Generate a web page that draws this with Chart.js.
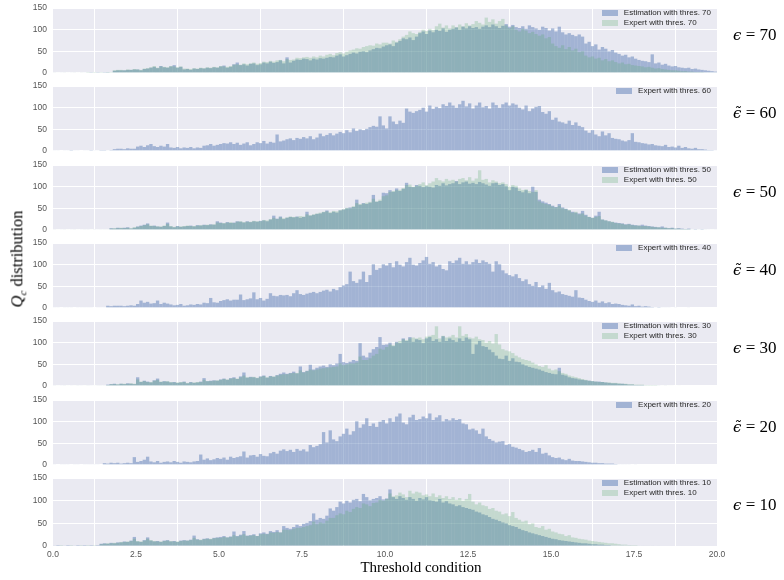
<!DOCTYPE html>
<html><head><meta charset="utf-8">
<script src="https://cdn.jsdelivr.net/npm/chart.js@4.4.1/dist/chart.umd.min.js"></script>
<style>
html,body{margin:0;padding:0;background:#fff;}
#wrap{position:relative;width:784px;height:580px;overflow:hidden;background:#fff;}
canvas{position:absolute;left:0;}
.leg{position:absolute;font:8px "Liberation Sans",Arial,sans-serif;color:#262626;line-height:10px;}
.row{display:flex;align-items:center;white-space:nowrap;height:10px;}
.sw{display:inline-block;width:16px;height:5.6px;margin-right:6px;}
.eps{position:absolute;left:733px;font:17px "Liberation Serif","Times New Roman",serif;white-space:pre;transform:translateY(-50%);color:#000;}
.eps .g{font:italic 15px "DejaVu Serif",serif;}
.ttl{position:absolute;font:15px "Liberation Serif","Times New Roman",serif;color:#000;white-space:nowrap;}
</style></head><body><div id="wrap"></div><script>
// ---- data: 200 bins of width 0.1 over [0, 20] ----
const binStart = 0, binWidth = 0.1;
const xTickValues = [0, 2.5, 5, 7.5, 10, 12.5, 15, 17.5, 20];
const yTickValues = [0, 50, 100, 150];

const est70 = [
1,0,1,1,0,1,1,0,1,1, 1,2,1,2,1,2,2,1,5,6, 6,6,7,7,8,8,6,9,10,12, 14,11,16,13,12,15,18,12,14,8,
9,7,10,9,11,10,12,11,13,12, 15,17,12,14,20,24,18,20,17,21, 22,18,20,24,22,26,23,25,29,22, 36,24,28,31,30,33,32,29,33,31,
34,33,35,37,36,40,43,38,41,44, 47,45,49,50,48,52,55,58,57,61, 64,66,62,70,74,80,78,82,76,84, 92,96,90,98,94,100,97,103,95,100,
102,105,100,107,103,108,104,106,102,107, 110,106,112,108,104,109,113,107,111,106, 104,108,102,110,106,103,100,107,104,98, 103,96,107,94,89,92,88,85,89,84,
68,72,62,66,54,60,56,50,53,47, 44,40,42,36,38,33,30,28,27,25, 43,22,24,19,21,17,15,16,13,12, 11,12,9,10,8,7,6,5,4,3];
const exp70 = [
1,1,0,1,1,0,1,1,1,0, 2,1,2,1,2,1,2,2,6,7, 7,6,8,7,9,8,7,10,11,13, 16,12,15,14,13,16,15,13,15,10,
10,9,11,10,12,11,13,12,14,13, 16,15,14,16,19,20,19,22,20,22, 24,21,23,26,25,28,26,29,30,27, 32,30,31,35,34,36,37,35,38,36,
40,38,42,44,41,46,48,45,49,52, 54,57,56,60,62,64,63,68,66,70, 70,68,75,72,78,84,88,96,92,90, 95,100,97,102,99,108,114,105,110,103,
110,106,112,108,115,110,113,120,116,112, 128,118,124,114,120,125,110,104,108,100, 96,102,98,92,95,90,86,89,80,83, 68,62,58,64,55,60,52,56,48,50,
40,36,38,33,35,29,32,27,29,25, 22,24,20,21,18,17,16,15,13,14, 12,10,11,9,8,7,6,6,5,4, 4,3,3,2,2,2,1,1,1,1];
const exp60 = [
1,1,0,1,1,2,1,1,0,1, 1,2,1,1,2,2,1,2,4,5, 5,4,6,5,5,10,12,9,13,16, 11,9,12,10,16,8,7,9,6,8,
7,9,6,8,7,12,13,16,12,14, 16,18,17,20,16,19,14,17,20,13, 16,20,18,23,17,21,19,38,22,24, 27,29,25,30,28,32,29,34,27,31,
40,34,37,41,36,40,44,41,48,43, 52,46,50,48,51,55,58,56,80,59, 52,80,68,62,70,65,98,91,88,92, 95,100,91,105,97,102,99,108,104,112,
105,100,108,116,103,110,98,105,112,101, 104,98,112,106,100,108,112,105,110,107, 100,96,105,92,98,102,104,90,86,92, 72,77,68,66,63,70,60,66,58,55,
47,42,48,38,34,45,36,41,30,28, 27,24,22,25,41,21,20,18,17,15, 16,13,12,11,14,9,10,8,12,7, 9,6,5,7,4,4,3,2,2,1];
const est50 = [
1,0,1,1,0,1,1,0,1,1, 1,0,1,1,1,1,1,4,3,5, 4,5,6,3,5,8,10,12,15,9, 10,8,7,9,17,8,6,9,7,8,
9,10,8,11,10,12,11,13,12,20, 17,15,18,16,17,20,19,17,20,18, 20,19,21,22,20,24,33,26,31,25, 28,30,29,31,28,30,42,33,35,37,
38,41,45,39,42,40,45,47,50,52, 53,70,58,62,60,63,81,65,67,86, 85,92,88,96,90,95,109,100,99,104, 102,99,101,100,98,104,102,108,103,106,
108,113,106,110,112,107,109,106,111,108, 105,102,108,109,104,106,101,92,100,98, 90,87,92,85,100,88,70,66,63,60, 56,53,60,52,49,45,42,40,38,44,
35,30,28,33,42,24,22,20,18,17, 16,15,13,14,12,11,10,12,10,9, 8,7,6,8,5,4,5,3,4,3, 2,3,1,2,1,2,1,1,0,1];
const exp50 = [
1,1,0,1,1,0,1,1,0,1, 1,1,1,0,1,1,1,3,4,4, 5,4,5,4,6,7,9,11,13,10, 9,8,8,10,14,9,7,8,8,9,
10,9,9,10,11,11,12,12,13,17, 16,16,17,18,16,19,20,18,19,19, 21,20,20,23,22,25,28,25,29,27, 29,31,30,30,32,31,36,34,36,38,
40,42,43,41,44,43,46,48,51,50, 55,62,60,61,63,65,72,66,70,78, 80,88,90,92,93,97,104,105,100,102, 106,110,104,108,112,120,115,112,118,114,
116,112,118,120,115,122,114,119,138,116, 118,110,115,112,108,110,106,100,104,102, 96,92,94,90,88,92,66,62,60,58, 54,52,56,50,48,46,40,42,36,38,
33,30,28,30,32,24,22,20,19,16, 15,14,12,13,11,10,10,9,9,8, 7,6,6,5,5,4,4,3,3,2, 2,2,1,1,1,1,1,0,1,0];
const exp40 = [
1,1,0,1,1,1,0,1,1,1, 1,1,0,1,1,1,5,4,5,5, 5,4,5,6,5,9,17,12,14,10, 11,17,9,12,10,8,6,7,9,5,
6,8,7,9,8,12,11,23,13,12, 16,18,20,17,19,19,31,18,20,22, 36,20,23,17,21,34,28,27,30,29, 30,27,34,41,32,30,33,35,37,34,
37,40,42,38,44,41,48,52,55,84, 62,58,66,84,60,76,101,88,92,101, 98,104,94,108,100,96,106,116,100,98, 104,110,118,102,106,96,100,90,87,108,
104,110,116,102,108,101,106,112,104,110, 106,102,84,108,101,87,80,76,73,78, 69,62,66,55,51,60,48,52,44,58, 41,36,38,32,30,28,26,41,24,23,
19,16,14,17,12,15,11,13,9,10, 9,7,6,5,8,4,5,3,4,3, 2,1,2,1,1,1,0,1,0,0, 0,1,0,0,0,0,0,0,0,0];
const est30 = [
1,0,1,1,0,1,0,1,1,0, 1,1,0,1,1,1,3,4,5,3, 5,4,6,5,4,20,9,12,10,8, 13,17,9,11,10,8,9,7,8,10,
6,9,7,8,10,18,11,12,13,12, 15,17,14,18,20,16,22,31,19,21, 20,18,22,24,19,23,21,25,28,31, 28,30,33,29,45,32,35,49,38,42,
45,47,44,50,48,52,74,55,53,56, 60,58,99,70,66,77,85,90,113,95, 96,100,92,102,99,110,104,113,102,108, 106,99,110,113,104,108,102,115,104,110,
106,102,110,104,112,108,74,96,104,92, 90,84,78,70,63,62,70,58,64,56, 55,50,47,44,42,40,38,35,32,30, 28,27,42,26,24,20,18,17,15,14,
13,12,11,10,10,9,8,7,6,6, 5,5,4,3,3,2,2,2,1,1, 1,1,1,0,1,0,0,0,0,0, 0,0,0,0,0,0,0,0,0,0];
const exp30 = [
1,1,0,1,1,0,1,1,0,1, 1,0,1,1,1,1,2,4,4,4, 5,5,5,6,5,15,10,11,9,9, 12,14,10,10,11,9,8,8,9,9,
7,8,8,9,9,14,11,11,12,13, 14,16,15,17,18,17,20,24,20,20, 21,19,21,23,20,22,22,24,26,27, 27,29,30,30,36,31,34,38,36,38,
40,41,42,43,44,45,52,48,50,52, 52,54,68,60,60,64,70,74,86,84, 90,96,94,100,104,108,106,110,112,110, 112,108,114,116,118,138,110,116,112,114,
118,112,138,116,120,112,110,114,108,106, 100,104,98,120,96,85,82,80,76,70, 66,62,60,58,54,50,46,44,48,40, 36,38,34,30,28,24,22,20,18,16,
14,12,11,10,9,9,8,8,7,7, 6,5,5,4,4,3,3,3,2,2, 2,2,1,1,1,1,1,0,1,0, 0,0,0,0,0,0,0,0,0,0];
const exp20 = [
1,0,1,1,1,0,1,1,0,1, 1,1,1,1,0,4,3,5,4,5, 3,4,5,4,18,7,9,12,19,8, 6,9,5,7,8,6,9,7,5,8,
7,6,8,9,24,12,15,11,13,16, 14,17,12,19,16,18,20,31,17,22, 23,19,25,21,20,27,30,26,33,36, 32,35,30,37,33,36,31,46,41,44,
48,76,52,80,59,55,66,72,84,70, 78,101,86,94,108,90,96,88,100,104, 96,108,100,112,119,98,94,110,116,104, 106,112,108,119,104,110,115,101,106,103,
108,104,106,96,94,82,84,80,72,84, 66,60,56,52,54,55,46,48,42,40, 37,34,30,32,35,30,39,26,28,22, 18,16,17,13,11,14,10,9,9,8,
7,6,5,5,4,4,3,3,3,2, 1,1,1,1,0,1,0,0,0,0, 0,0,0,0,0,0,0,0,0,0, 0,0,0,0,0,0,0,0,0,0];
const est10 = [
1,2,1,1,2,1,1,2,1,2, 1,2,1,2,5,6,5,7,6,8, 8,10,9,12,20,10,9,13,19,12, 10,11,9,12,13,10,11,9,12,13,
12,14,23,15,13,16,17,15,18,19, 20,22,19,21,32,22,25,33,23,24, 26,22,28,30,27,33,31,35,30,44, 40,38,42,47,44,49,51,55,72,58,
62,60,67,83,78,86,98,94,100,96, 102,104,99,115,108,101,104,106,110,103, 105,125,108,104,110,106,102,108,104,100, 106,103,108,101,100,98,104,96,99,94,
92,88,90,86,84,82,80,76,74,70, 68,64,60,58,55,52,50,46,44,42, 38,35,33,30,28,26,24,22,20,18, 16,15,13,12,11,10,9,8,7,6,
6,5,4,4,3,3,2,2,1,1, 1,1,0,1,0,0,0,0,0,0, 0,0,0,0,0,0,0,0,0,0, 0,0,0,0,0,0,0,0,0,0];
const exp10 = [
1,1,2,1,1,2,1,1,2,1, 2,1,2,1,4,5,6,6,7,7, 9,9,10,11,16,11,10,12,16,13, 11,10,10,11,12,11,10,10,11,12,
12,13,18,14,14,15,16,16,17,18, 18,20,19,20,24,21,23,26,22,23, 24,22,26,27,26,30,29,31,30,36, 36,35,38,40,40,42,44,46,54,48,
52,50,56,62,62,68,72,70,78,75, 82,86,84,94,92,88,95,96,102,100, 104,116,110,112,118,114,108,122,116,120, 118,112,114,110,116,108,112,106,110,104,
108,102,106,100,104,115,98,92,96,90, 88,82,84,78,76,70,72,66,75,62, 58,54,56,48,50,42,40,44,36,38, 32,30,27,26,22,24,19,18,16,15,
14,12,11,10,9,8,7,6,6,5, 4,3,3,2,2,2,1,1,1,1, 1,0,1,0,0,0,0,0,0,0, 0,0,0,0,0,0,0,0,0,0];

const panelSymbols = ['ϵ','ϵ̃','ϵ','ϵ̃','ϵ','ϵ̃','ϵ'];
const panelThresholds = ['70','60','50','40','30','20','10'];
const panelSeries = [
  [['Estimation with thres. 70', est70], ['Expert with thres. 70', exp70]],
  [['Expert with thres. 60', exp60]],
  [['Estimation with thres. 50', est50], ['Expert with thres. 50', exp50]],
  [['Expert with thres. 40', exp40]],
  [['Estimation with thres. 30', est30], ['Expert with thres. 30', exp30]],
  [['Expert with thres. 20', exp20]],
  [['Estimation with thres. 10', est10], ['Expert with thres. 10', exp10]]
];
const xTitle = 'Threshold condition';

// ---- layout / style ----
[est70,exp70,exp60,est50,exp50,exp40,est30,exp30,exp20,est10,exp10].forEach((a,i)=>{ if(a.length!==200) throw new Error('series '+i+' has '+a.length); });
const COLORS = ['rgba(76,114,176,0.45)', 'rgba(85,168,104,0.25)'];
const panelTops = [5, 83, 162, 240, 318, 397, 475];
const PLOT_L = 53, PLOT_R = 717, PLOT_H = 71, PAD = 8, W = 730;
const wrap = document.getElementById('wrap');
const bgPlugin = { id:'bg', beforeDraw(c){ const a=c.chartArea, x=c.ctx; x.save(); x.fillStyle='#EAEAF2'; x.fillRect(a.left,a.top,a.right-a.left,a.bottom-a.top); x.restore(); } };
const tickFont = { size: 8.5, family: '"Liberation Sans", Arial, sans-serif' };

panelSeries.forEach((series, k) => {
  const top = panelTops[k], last = k === panelSeries.length - 1;
  const H = PAD + PLOT_H + (last ? 16 : PAD);
  const cv = document.createElement('canvas');
  cv.width = W; cv.height = H;
  cv.style.top = (top - PAD) + 'px'; cv.style.width = W + 'px'; cv.style.height = H + 'px';
  wrap.appendChild(cv);
  new Chart(cv, {
    type: 'bar',
    data: { datasets: series.map((s, j) => ({
      label: s[0],
      data: s[1].map((v, i) => ({ x: binStart + (i + 0.5) * binWidth, y: v })),
      backgroundColor: COLORS[j], borderWidth: 0, barPercentage: 1, categoryPercentage: 1,
      grouped: false, inflateAmount: 0, order: series.length - j
    })) },
    options: {
      responsive: false, animation: false, devicePixelRatio: 1,
      layout: { padding: { left: 0, right: W - PLOT_R, top: PAD, bottom: last ? 0 : PAD } },
      plugins: { legend: { display: false }, tooltip: { enabled: false } },
      scales: {
        x: { type: 'linear', min: 0, max: 20, offset: false,
          grid: { color: '#ffffff', lineWidth: 1, drawTicks: false }, border: { display: false },
          afterBuildTicks: s => { s.ticks = xTickValues.map(v => ({ value: v })); },
          ticks: { display: last, color: '#555', font: tickFont, padding: 4, maxRotation: 0, autoSkip: false, callback: v => Number(v).toFixed(1) },
          afterFit: s => { s.height = last ? 16 : 0; } },
        y: { min: 0, max: 150,
          grid: { color: '#ffffff', lineWidth: 1, drawTicks: false }, border: { display: false },
          afterBuildTicks: s => { s.ticks = yTickValues.map(v => ({ value: v })); },
          ticks: { color: '#555', font: tickFont, padding: 6 },
          afterFit: s => { s.width = PLOT_L; } }
      }
    },
    plugins: [bgPlugin]
  });
  // legend (upper right, inside axes)
  const leg = document.createElement('div');
  leg.className = 'leg';
  leg.style.right = (784 - (PLOT_R - 6)) + 'px';
  leg.style.top = (top + 3) + 'px';
  series.forEach((s, j) => {
    const r = document.createElement('div'); r.className = 'row';
    const sw = document.createElement('span'); sw.className = 'sw';
    sw.style.background = '#EAEAF2'; sw.style.boxShadow = 'inset 0 0 0 100px ' + COLORS[j];
    r.appendChild(sw); r.appendChild(document.createTextNode(s[0]));
    leg.appendChild(r);
  });
  wrap.appendChild(leg);
  const e = document.createElement('div'); e.className = 'eps';
  const g = document.createElement('span'); g.className = 'g'; g.textContent = panelSymbols[k];
  e.appendChild(g); e.appendChild(document.createTextNode(' = ' + panelThresholds[k]));
  e.style.top = (top + 30) + 'px';
  wrap.appendChild(e);
});

const xt = document.createElement('div'); xt.className = 'ttl'; xt.textContent = xTitle;
xt.style.left = '421px'; xt.style.top = '567px'; xt.style.transform = 'translate(-50%,-50%)';
wrap.appendChild(xt);
const yt = document.createElement('div'); yt.className = 'ttl'; yt.style.fontSize = '16.5px';
yt.innerHTML = '<i>Q<sub style="font-size:11px">c</sub></i> distribution';
yt.style.left = '18px'; yt.style.top = '259px'; yt.style.transform = 'translate(-50%,-50%) rotate(-90deg)';
wrap.appendChild(yt);
</script></body></html>
